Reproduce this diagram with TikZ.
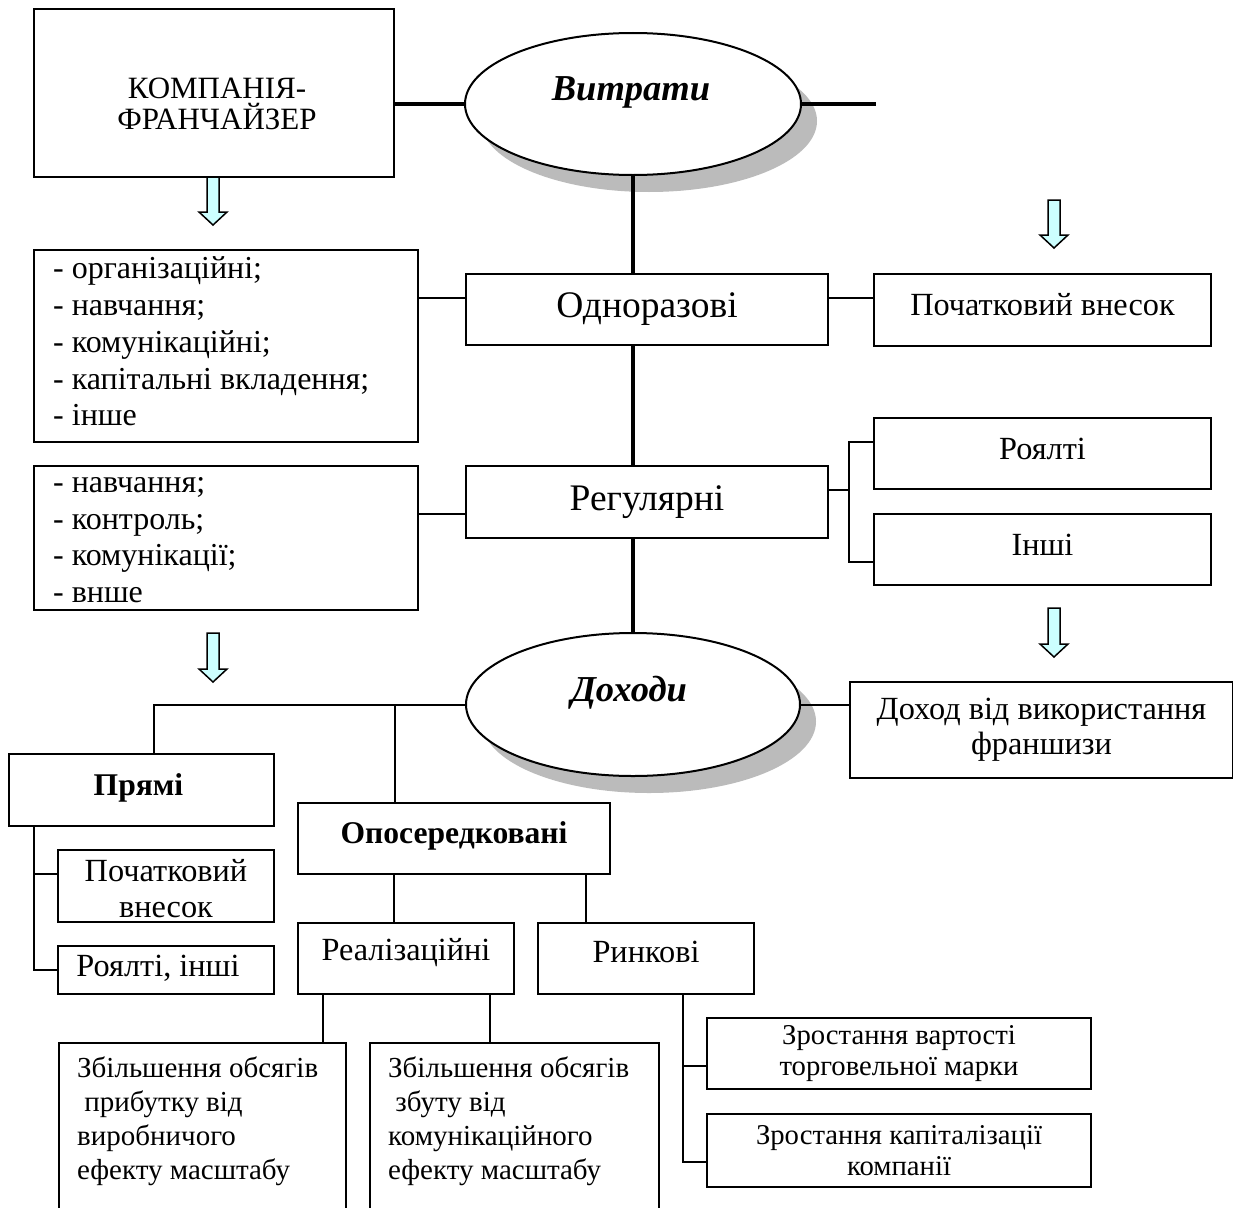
\documentclass[tikz,border=0pt]{standalone}
\usepackage{fontspec}
\setmainfont{Liberation Serif}
\usetikzlibrary{shapes.geometric}
\definecolor{arrowfill}{HTML}{CCFFFF}
\definecolor{shadowgray}{HTML}{BBBBBB}
\newcommand\blockarrow[3]{%
  \filldraw[barrow] ({#1-6},#2) -- ({#1+6},#2) -- ({#1+6},{#3-13}) -- ({#1+14},{#3-13}) -- (#1,#3) -- ({#1-14},{#3-13}) -- ({#1-6},{#3-13}) -- cycle;}
\begin{document}
\begin{tikzpicture}[x=1pt,y=-1pt,
  box/.style={draw, line width=2pt, inner sep=0pt, anchor=north west},
  thinline/.style={line width=2pt},
  thickline/.style={line width=3.5pt},
  ellbox/.style={ellipse, draw, line width=2pt, fill=white, inner sep=0pt},
  shadowell/.style={ellipse, fill=shadowgray, inner sep=0pt},
  barrow/.style={draw, line width=1.5pt, fill=arrowfill, line join=miter},
  txt/.style={inner sep=0pt, align=center},
  fa/.style={font=\fontsize{32.3}{36}\selectfont},
  fb/.style={font=\fontsize{37.5}{40}\selectfont},
  fc/.style={font=\fontsize{31}{31}\selectfont},
  fl/.style={font=\fontsize{32}{36.7}\selectfont},
  fs/.style={font=\fontsize{29}{33.7}\selectfont},
  fz/.style={font=\fontsize{28.7}{31.5}\selectfont},
  fbold/.style={font=\fontsize{31.6}{34}\selectfont\bfseries},
  fe/.style={font=\fontsize{36.5}{38}\selectfont\bfseries\itshape}
]
\useasboundingbox (0,0) rectangle (1233,1207);
\clip (0,0) rectangle (1233,1207);
\fill[white] (0,0) rectangle (1233,1207);

% shadows of ellipses
\node[shadowell, minimum width=336pt, minimum height=142pt] (sh1) at (649,121) {};
\node[shadowell, minimum width=334pt, minimum height=143pt] (sh2) at (649,721.5) {};

% ellipses
\node[ellbox, minimum width=336pt, minimum height=142pt] (ell1) at (633,104) {};
\node[ellbox, minimum width=334pt, minimum height=143pt] (ell2) at (633,704.5) {};
\node[txt, fe, anchor=base] (ell1T) at (631,100) {Витрати};
\node[txt, fe, anchor=base] (ell2T) at (629,701) {Доходи};

% boxes
\node[box, minimum width=360pt, minimum height=168pt] (comp) at (33,8) {};
\node[box, minimum width=384pt, minimum height=192pt] (list1) at (33,249) {};
\node[box, minimum width=384pt, minimum height=144pt] (list2) at (33,465) {};
\node[box, minimum width=362pt, minimum height=71pt] (odn) at (465,273) {};
\node[box, minimum width=362pt, minimum height=72pt] (reg) at (465,465) {};
\node[box, minimum width=337pt, minimum height=72pt] (poch) at (873,273) {};
\node[box, minimum width=337pt, minimum height=71pt] (royal) at (873,417) {};
\node[box, minimum width=337pt, minimum height=71pt] (inshi) at (873,513) {};
\node[box, minimum width=383pt, minimum height=96pt] (dohid) at (849,681) {};
\node[box, minimum width=265pt, minimum height=72pt] (pryami) at (8,753) {};
\node[box, minimum width=312pt, minimum height=71pt] (opos) at (297,802) {};
\node[box, minimum width=216pt, minimum height=72pt] (poch2) at (57,849) {};
\node[box, minimum width=216pt, minimum height=48pt] (royal2) at (57,945) {};
\node[box, minimum width=216pt, minimum height=71pt] (real) at (297,922) {};
\node[box, minimum width=216pt, minimum height=71pt] (rynk) at (537,922) {};
\node[box, minimum width=287pt, minimum height=200pt] (zb1) at (58,1042) {};
\node[box, minimum width=289pt, minimum height=200pt] (zb2) at (369,1042) {};
\node[box, minimum width=384pt, minimum height=71pt] (zr1) at (706,1017) {};
\node[box, minimum width=384pt, minimum height=73pt] (zr2) at (706,1113) {};

% texts
\node[txt, fc] (compT) at ([xshift=3pt,yshift=-10.5pt]comp.center) {КОМПАНІЯ-\\ФРАНЧАЙЗЕР};
\node[txt, fl, anchor=west, align=left] (list1T) at ([xshift=20pt,yshift=4.5pt]list1.west)
  {- організаційні;\\- навчання;\\- комунікаційні;\\- капітальні вкладення;\\- інше};
\node[txt, fl, anchor=west, align=left] (list2T) at ([xshift=20pt,yshift=-2pt]list2.west)
  {- навчання;\\- контроль;\\- комунікації;\\- внше};
\node[txt, fb] (odnT) at (odn.center) {Одноразові};
\node[txt, fb] (regT) at (reg.center) {Регулярні};
\node[txt, fa] (pochT) at ([yshift=5pt]poch.center) {Початковий внесок};
\node[txt, fa] (royalT) at ([yshift=5pt]royal.center) {Роялті};
\node[txt, fa] (inshiT) at ([yshift=5pt]inshi.center) {Інші};
\node[txt, fa, font=\fontsize{32.3}{35}\selectfont] (dohidT) at (dohid.center) {Доход від використання\\франшизи};
\node[txt, fbold] (pryamiT) at ([xshift=-3pt,yshift=2.5pt]pryami.center) {Прямі};
\node[txt, fbold] (oposT) at ([yshift=3pt]opos.center) {Опосередковані};
\node[txt, fa] (poch2T) at ([yshift=-3pt]poch2.center) {Початковий\\внесок};
\node[txt, fa] (royal2T) at ([xshift=-8pt,yshift=1.5pt]royal2.center) {Роялті, інші};
\node[txt, fa] (realT) at ([yshift=6pt]real.center) {Реалізаційні};
\node[txt, fa] (rynkT) at ([yshift=7pt]rynk.center) {Ринкові};
\node[txt, fs, anchor=north west, align=left] (zb1T) at (77,1057)
  {Збільшення обсягів\\\hspace*{0.25em}прибутку від\\виробничого\\ефекту масштабу};
\node[txt, fs, anchor=north west, align=left] (zb2T) at (388,1057)
  {Збільшення обсягів\\\hspace*{0.25em}збуту від\\комунікаційного\\ефекту масштабу};
\node[txt, fz] (zr1T) at (zr1.center) {Зростання вартості\\торговельної марки};
\node[txt, fz] (zr2T) at (zr2.center) {Зростання капіталізації\\компанії};

% thick connectors
\draw[thickline] (ell1.west) -- (ell1.west -| comp.east);
\coordinate (rend) at (876,104);
\draw[thickline] (ell1.east) -- (rend);
\draw[thickline] (ell1.south) -- (ell1.south |- odn.north);
\draw[thickline] (ell1.south |- odn.south) -- (ell1.south |- reg.north);
\draw[thickline] (ell1.south |- reg.south) -- (ell2.north);

% thin connectors
\path ([yshift=11.5pt]odn.west) coordinate (c1);
\draw[thinline] (c1) -- (c1 -| list1.east);
\path ([yshift=11.5pt]odn.east) coordinate (c2);
\draw[thinline] (c2) -- (c2 -| poch.west);
\path ([yshift=-12pt]reg.west) coordinate (c3);
\draw[thinline] (c3) -- (c3 -| list2.east);
\path ([yshift=12pt]reg.east) coordinate (c4);
\coordinate (bk1) at (849,0);
\path ([yshift=11.5pt]royal.west) coordinate (c5);
\path ([yshift=-12.5pt]inshi.west) coordinate (c6);
\draw[thinline] (c4) -- (c4 -| bk1);
\draw[thinline] (c5) -- (c5 -| bk1) -- (c6 -| bk1) -- (c6);

\path ([xshift=12.5pt]pryami.north) coordinate (c7);
\draw[thinline] (ell2.west) -| (c7);
\path ([xshift=-59pt]opos.north) coordinate (c8);
\draw[thinline] (c8) -- (c8 |- ell2.west);
\draw[thinline] (ell2.east) -- (ell2.east -| dohid.west);

\path ([xshift=-107.5pt]pryami.south) coordinate (c9);
\path ([yshift=12pt]poch2.west) coordinate (c10);
\draw[thinline] (c9) |- (royal2.west);
\draw[thinline] (c10) -- (c10 -| c9);

\path ([xshift=-12pt]real.north) coordinate (c11);
\draw[thinline] (c11) -- (c11 |- opos.south);
\path ([xshift=-60pt]rynk.north) coordinate (c12);
\draw[thinline] (c12) -- (c12 |- opos.south);

\path ([xshift=-83pt]real.south) coordinate (c13);
\draw[thinline] (c13) -- (c13 |- zb1.north);
\path ([xshift=84pt]real.south) coordinate (c14);
\draw[thinline] (c14) -- (c14 |- zb2.north);

\path ([xshift=37pt]rynk.south) coordinate (c15);
\path ([yshift=-12.5pt]zr1.west) coordinate (c16);
\path ([yshift=-11.5pt]zr2.west) coordinate (c17);
\draw[thinline] (c15) |- (c17);
\draw[thinline] (c16) -- (c16 -| c15);

% block arrows
\blockarrow{213}{177}{225}
\blockarrow{1054}{200}{248}
\blockarrow{1054}{608}{657}
\blockarrow{213}{633}{682}
\end{tikzpicture}
\end{document}
